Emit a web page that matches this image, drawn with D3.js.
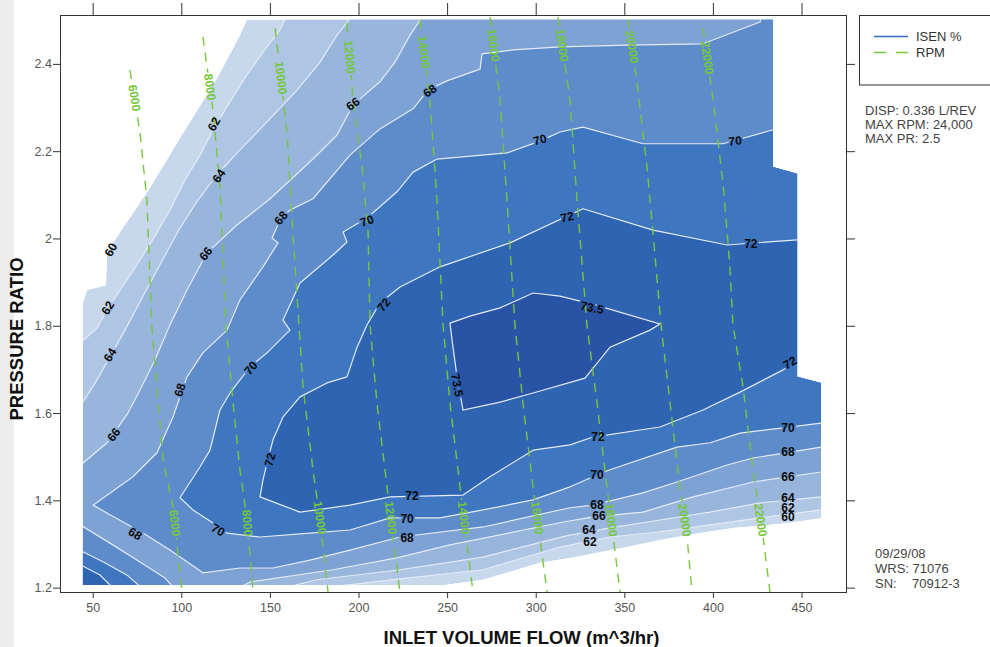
<!DOCTYPE html>
<html>
<head>
<meta charset="utf-8">
<script src="https://cdn.jsdelivr.net/npm/d3@7/dist/d3.min.js"></script>
<style>
html,body{margin:0;padding:0;background:#fff;}
svg{display:block;}
text{font-family:"Liberation Sans",Arial,Helvetica,sans-serif;}
</style>
</head>
<body>
<svg id="chart" width="990" height="647"></svg>
<script>
// ================= DATA (flow m^3/hr, pressure ratio) =================
const xTicks = [50,100,150,200,250,300,350,400,450];
const yTicks = [1.2,1.4,1.6,1.8,2,2.2,2.4];
const isenLevels = [60,62,64,66,68,70,72,73.5];

// outline of the mapped area (edge = 60 % line)
const mapOutline = [[44.5,1.206],[248.8,1.206],[270.3,1.218],[289.4,1.241],[302.4,1.257],[319.4,1.268],[351.5,1.293],[370.1,1.309],[392.7,1.325],[413.6,1.338],[426.6,1.341],[445.2,1.350],[461.0,1.359],[461.0,1.669],[447.5,1.683],[447.5,2.148],[433.9,2.164],[433.9,2.501],[137.1,2.501],[133.1,2.466],[126.4,2.414],[119.0,2.359],[110.6,2.304],[99.3,2.230],[90.8,2.173],[82.3,2.116],[72.7,2.058],[65.4,2.015],[58.1,1.967],[57.5,1.893],[46.8,1.882],[44.5,1.852]];

// isentropic efficiency contour lines
const isen62TopLeft = [[40.0,1.749],[52.4,1.795],[59.8,1.848],[68.2,1.898],[76.7,1.951],[85.2,2.006],[93.6,2.065],[102.1,2.134],[110.6,2.191],[117.9,2.249],[126.4,2.306],[135.9,2.368],[146.1,2.427],[155.7,2.478],[161.3,2.524]];
const isen64TopLeft = [[40.0,1.596],[52.4,1.676],[59.8,1.729],[68.2,1.790],[76.7,1.855],[85.2,1.919],[92.5,1.974],[99.3,2.024],[109.4,2.088],[120.1,2.146],[133.1,2.203],[148.4,2.267],[165.3,2.340],[178.3,2.404],[187.9,2.466],[199.2,2.524]];
const isen66TopLeft = [[40.0,1.470],[58.1,1.532],[69.9,1.600],[76.7,1.653],[85.2,1.722],[93.6,1.802],[103.2,1.882],[114.5,1.967],[131.4,2.031],[150.1,2.091],[174.3,2.182],[187.9,2.237],[196.9,2.306],[212.1,2.359],[220.6,2.404],[229.1,2.466],[238.7,2.524]];
const isen62Bottom = [[468.9,1.380],[461.0,1.378],[426.6,1.360],[398.4,1.344],[370.1,1.328],[341.9,1.316],[313.7,1.293],[270.3,1.241],[223.4,1.220],[189.6,1.204],[184.0,1.183]];
const isen64Bottom = [[468.9,1.410],[461.0,1.408],[426.6,1.394],[398.4,1.373],[370.1,1.355],[341.9,1.337],[316.5,1.318],[270.3,1.270],[223.4,1.241],[176.6,1.218],[141.6,1.183]];
const isen66Bottom = [[468.9,1.467],[461.0,1.465],[422.6,1.442],[388.8,1.408],[360.5,1.373],[332.3,1.362],[316.5,1.351],[251.6,1.298],[221.7,1.268],[185.6,1.241],[138.8,1.213],[124.7,1.183]];
const isen68Main = [[429.4,2.535],[426.6,2.496],[394.4,2.446],[351.5,2.443],[313.7,2.439],[287.2,2.432],[269.7,2.423],[268.6,2.388],[249.9,2.361],[239.2,2.340],[230.8,2.297],[212.1,2.251],[195.2,2.191],[174.3,2.091],[161.3,2.065],[155.7,2.042],[151.2,2.001],[154.6,1.990],[146.1,1.935],[133.1,1.859],[125.8,1.790],[112.2,1.738],[103.2,1.683],[95.3,1.591],[86.3,1.509],[72.7,1.454],[50.2,1.389],[59.8,1.367],[78.4,1.325],[93.6,1.286],[112.2,1.234],[133.1,1.245],[151.7,1.245],[172.6,1.263],[195.2,1.286],[223.4,1.316],[270.3,1.339],[319.4,1.383],[332.3,1.389],[360.5,1.417],[379.7,1.442],[408.0,1.481],[422.6,1.497],[461.0,1.522],[468.9,1.526]];
const isen68Corner = [[40.0,1.351],[59.8,1.302],[76.7,1.259],[90.8,1.222],[99.3,1.183]];
const isen70Main = [[440.7,2.249],[433.9,2.249],[405.7,2.217],[360.5,2.217],[326.7,2.255],[313.7,2.244],[302.4,2.223],[283.8,2.196],[244.3,2.182],[230.8,2.152],[221.7,2.107],[204.8,2.047],[191.3,2.015],[193.5,1.992],[185.6,1.962],[167.0,1.898],[157.4,1.813],[161.3,1.790],[148.4,1.738],[138.8,1.706],[127.5,1.646],[121.8,1.607],[116.2,1.515],[110.6,1.477],[99.3,1.406],[106.6,1.378],[117.9,1.348],[125.8,1.325],[144.4,1.316],[172.6,1.325],[195.2,1.332],[217.8,1.360],[246.0,1.360],[270.3,1.378],[298.5,1.401],[319.4,1.431],[332.3,1.454],[341.9,1.470],[379.7,1.522],[398.4,1.532],[415.3,1.554],[439.6,1.566],[461.0,1.577],[468.9,1.579]];
const isen70Corner = [[40.0,1.291],[56.9,1.257],[69.9,1.227],[82.3,1.183]];
const isen72Main = [[454.8,1.997],[447.5,1.997],[408.0,1.985],[366.2,2.019],[326.7,2.068],[285.5,1.990],[246.0,1.935],[223.4,1.889],[212.1,1.852],[204.8,1.802],[199.2,1.751],[193.5,1.683],[182.2,1.669],[167.0,1.637],[157.4,1.591],[151.7,1.538],[148.4,1.486],[146.1,1.447],[144.4,1.408],[167.0,1.373],[195.2,1.389],[217.8,1.408],[259.0,1.412],[274.2,1.454],[298.5,1.515],[319.4,1.527],[332.3,1.545],[370.1,1.568],[394.4,1.607],[415.3,1.648],[439.6,1.699],[447.5,1.717],[454.8,1.726]];
const isen72Corner = [[40.0,1.259],[54.1,1.229],[65.4,1.183]];
const isen735Core = [[251.6,1.806],[262.9,1.822],[279.9,1.841],[298.5,1.875],[313.7,1.868],[333.5,1.848],[370.1,1.804],[364.5,1.790],[341.9,1.751],[327.8,1.680],[298.5,1.646],[279.9,1.625],[259.0,1.607],[255.6,1.683],[252.8,1.767]];

// contour labels: text, flow, PR, angle
const isenLabels = [
 ["60",60.3,1.974,-62],["62",58.6,1.841,-58],["64",59.8,1.733,-58],["66",62.0,1.550,-52],
 ["62",118.5,2.262,-60],["64",121.3,2.143,-55],["66",113.9,1.965,-52],["68",156.3,2.047,-50],
 ["66",196.9,2.308,-35],["68",240.3,2.338,-35],["68",99.3,1.653,-72],["70",139.3,1.703,-50],
 ["70",204.8,2.040,-20],["70",302.4,2.226,-15],["70",412.5,2.223,-5],["72",214.4,1.848,-50],
 ["72",317.7,2.049,-12],["72",421.4,1.987,0],["73.5",331.8,1.841,12],["73.5",255.6,1.664,80],
 ["72",150.1,1.493,-75],["72",443.5,1.715,-30],["68",73.9,1.323,32],["70",120.7,1.332,30],
 ["72",230.2,1.410,0],["70",227.4,1.357,0],["68",227.4,1.314,0],
 ["72",335.1,1.545,0],["70",334.6,1.458,0],["68",334.6,1.389,0],["66",335.7,1.364,0],["64",330.0,1.332,0],["62",330.6,1.305,0],
 ["70",442.3,1.566,0],["68",442.3,1.511,0],["66",442.3,1.454,0],["64",442.3,1.406,0],["62",442.3,1.383,0],["60",442.3,1.362,0]
];

// RPM speed lines
const rpmSpeeds = [6000,8000,10000,12000,14000,16000,18000,20000,22000];
const rpm6000  = [[71.0,2.386],[76.7,2.242],[80.6,2.088],[83.5,1.790],[86.3,1.660],[89.7,1.493],[95.3,1.385],[100.4,1.190]];
const rpm8000  = [[112.2,2.462],[117.9,2.294],[121.8,2.118],[125.2,1.802],[129.2,1.623],[133.1,1.470],[137.1,1.355],[140.5,1.190]];
const rpm10000 = [[152.9,2.482],[159.7,2.242],[163.0,2.013],[166.4,1.802],[168.7,1.660],[174.3,1.470],[178.3,1.355],[182.8,1.190]];
const rpm12000 = [[193.5,2.494],[196.9,2.317],[202.0,2.164],[205.4,2.013],[206.5,1.802],[210.4,1.623],[216.1,1.431],[219.5,1.316],[223.4,1.190]];
const rpm14000 = [[234.7,2.501],[240.3,2.317],[244.3,2.088],[247.7,1.802],[251.6,1.623],[257.3,1.431],[264.6,1.190]];
const rpm16000 = [[274.2,2.507],[279.9,2.317],[283.8,2.088],[288.3,1.802],[292.8,1.623],[298.5,1.431],[306.4,1.190]];
const rpm18000 = [[312.6,2.507],[319.4,2.317],[323.3,2.088],[328.9,1.802],[334.6,1.623],[340.2,1.431],[347.6,1.190]];
const rpm20000 = [[352.1,2.501],[357.2,2.356],[362.8,2.164],[366.2,2.013],[370.7,1.802],[375.8,1.623],[381.4,1.431],[385.4,1.316],[388.2,1.190]];
const rpm22000 = [[394.4,2.482],[400.1,2.317],[405.7,2.127],[409.6,1.935],[411.3,1.802],[417.0,1.660],[422.6,1.470],[428.3,1.316],[432.2,1.190]];
const rpmTopLabelPR    = [2.322,2.347,2.368,2.416,2.427,2.443,2.443,2.439,2.414];
const rpmBottomLabelPR = [1.348,1.348,1.360,1.360,1.360,1.360,1.355,1.355,1.355];

const legendItems = ["ISEN %","RPM"];
const infoLines = ["DISP: 0.336 L/REV","MAX RPM: 24,000","MAX PR: 2.5"];
const stampLines = [["09/29/08",""],["WRS: 71076",""],["SN:","70912-3"]];
const xTitle = "INLET VOLUME FLOW (m^3/hr)";
const yTitle = "PRESSURE RATIO";

// ================= STYLE =================
const bandColors = ["#c7d7ec","#afc5e4","#98b5dc","#7ea2d3","#5e8bc9","#3e77c0","#2f64b3","#2954a6"];
const contourStroke = "#e3ebf7";
const rpmColor = "#78c63e";
const W = 990, H = 647;
const M = {l:60, t:15, r:846, b:592};

// ================= DRAW =================
const svg = d3.select("#chart");
const x = d3.scaleLinear().domain([31.55,475.1]).range([M.l,M.r]);
const y = d3.scaleLinear().domain([1.190,2.512]).range([M.b,M.t]);
const line = d3.line().x(d=>x(d[0])).y(d=>y(d[1]));

svg.append("rect").attr("x",0).attr("y",0).attr("width",14).attr("height",H).attr("fill","#ededed");

const defs = svg.append("defs");
defs.append("clipPath").attr("id","clipMap").append("path").attr("d", line(mapOutline)+"Z");
defs.append("clipPath").attr("id","clipPlot").append("rect")
  .attr("x",M.l).attr("y",M.t).attr("width",M.r-M.l).attr("height",M.b-M.t);

// closing points outside the mapped area
const corner = {
  TR:[x.domain()[1]+30, y.domain()[1]+0.5],
  BL:[x.domain()[0]-30, y.domain()[0]-0.2]
};
const regions = [
  [[isen62TopLeft,"TR",isen62Bottom,"BL"]],
  [[isen64TopLeft,"TR",isen64Bottom,"BL"]],
  [[isen66TopLeft,"TR",isen66Bottom,"BL"]],
  [[isen68Main,"TR"],[isen68Corner,"BL"]],
  [[isen70Main,"TR"],[isen70Corner,"BL"]],
  [[isen72Main],[isen72Corner,"BL"]],
  [[isen735Core]]
];
const partPoints = part => part.flatMap(p => typeof p === "string" ? [corner[p]] : p);

const bands = svg.append("g").attr("clip-path","url(#clipMap)");
bands.append("path").attr("d", line(mapOutline)+"Z").attr("fill", bandColors[0]);
regions.forEach((parts,i)=>{
  bands.append("path")
    .attr("d", parts.map(pt => line(partPoints(pt))+"Z").join(" "))
    .attr("fill", bandColors[i+1]);
});

// masks so lines break under their labels
function makeMask(id){
  const m = defs.append("mask").attr("id",id).attr("maskUnits","userSpaceOnUse")
    .attr("x",0).attr("y",0).attr("width",W).attr("height",H);
  m.append("rect").attr("x",0).attr("y",0).attr("width",W).attr("height",H).attr("fill","#fff");
  return m;
}
const maskIsen = makeMask("maskIsen");
const maskRpm = makeMask("maskRpm");

// contour lines
const contourLines = [isen62TopLeft,isen64TopLeft,isen66TopLeft,isen62Bottom,isen64Bottom,isen66Bottom,
  isen68Main,isen68Corner,isen70Main,isen70Corner,isen72Main,isen72Corner];
const cg = svg.append("g").attr("clip-path","url(#clipMap)").append("g").attr("mask","url(#maskIsen)");
contourLines.forEach(c => cg.append("path").attr("d", line(c)).attr("fill","none")
  .attr("stroke",contourStroke).attr("stroke-width",1.2).attr("stroke-linejoin","round"));
cg.append("path").attr("d", line(isen735Core)+"Z").attr("fill","none")
  .attr("stroke",contourStroke).attr("stroke-width",1.2);

// RPM lines
const rpmLines = [rpm6000,rpm8000,rpm10000,rpm12000,rpm14000,rpm16000,rpm18000,rpm20000,rpm22000];
const rg = svg.append("g").attr("clip-path","url(#clipPlot)").append("g").attr("mask","url(#maskRpm)");
rpmLines.forEach(l => rg.append("path").attr("d", line(l)).attr("fill","none")
  .attr("stroke",rpmColor).attr("stroke-width",1.4).attr("stroke-dasharray","9,7"));

function atPR(pts, pr){
  for(let i=0;i<pts.length-1;i++){
    const a=pts[i], b=pts[i+1];
    if((a[1]-pr)*(b[1]-pr) <= 0){
      const t = (pr-a[1])/(b[1]-a[1]);
      const f = a[0]+t*(b[0]-a[0]);
      const ang = Math.atan2(y(b[1])-y(a[1]), x(b[0])-x(a[0]))*180/Math.PI;
      return {px:x(f), py:y(pr), ang};
    }
  }
  return null;
}
const rpmLabelG = svg.append("g");
rpmLines.forEach((l,i)=>{
  [rpmTopLabelPR[i], rpmBottomLabelPR[i]].forEach(pr=>{
    const p = atPR(l, pr);
    if(!p) return;
    const tf = `translate(${p.px},${p.py}) rotate(${p.ang})`;
    rpmLabelG.append("text").attr("transform",tf).attr("text-anchor","middle")
      .attr("dominant-baseline","central").attr("font-size",12).attr("font-weight","bold")
      .attr("fill","#74c83a").text(rpmSpeeds[i]);
    maskRpm.append("text").attr("transform",tf).attr("text-anchor","middle")
      .attr("dominant-baseline","central").attr("font-size",12).attr("font-weight","bold")
      .attr("fill","#000").attr("stroke","#000").attr("stroke-width",4).text(rpmSpeeds[i]);
  });
});

// contour labels
const isenLabelG = svg.append("g");
isenLabels.forEach(([t,f,p,a])=>{
  const tf = `translate(${x(f)},${y(p)}) rotate(${a})`;
  isenLabelG.append("text").attr("transform",tf).attr("text-anchor","middle")
    .attr("dominant-baseline","central").attr("font-size",12).attr("font-weight","bold")
    .attr("fill","#0a0a0a").text(t);
  maskIsen.append("text").attr("transform",tf).attr("text-anchor","middle")
    .attr("dominant-baseline","central").attr("font-size",12).attr("font-weight","bold")
    .attr("fill","#000").attr("stroke","#000").attr("stroke-width",4).text(t);
});

// axes
function styleAxis(g){
  g.select(".domain").remove();
  g.selectAll(".tick line").attr("stroke","#333");
  g.selectAll(".tick text").attr("fill","#555").attr("font-size",12.5)
    .attr("font-family",'"Liberation Sans",Arial,sans-serif');
}
svg.append("g").attr("transform",`translate(${M.l},0)`)
  .call(d3.axisLeft(y).tickValues(yTicks).tickSize(7).tickPadding(1).tickFormat(d=>String(d)))
  .call(styleAxis);
svg.append("g").attr("transform",`translate(0,${M.b})`)
  .call(d3.axisBottom(x).tickValues(xTicks).tickSize(6).tickPadding(5).tickFormat(d=>String(d)))
  .call(styleAxis);
svg.append("g").attr("transform",`translate(0,${M.t})`)
  .call(d3.axisTop(x).tickValues(xTicks).tickSize(12).tickFormat(()=>""))
  .call(styleAxis);
svg.append("g").attr("transform",`translate(${M.r},0)`)
  .call(d3.axisRight(y).tickValues(yTicks).tickSize(9).tickFormat(()=>""))
  .call(styleAxis);

svg.append("rect").attr("x",M.l+0.5).attr("y",M.t+0.5).attr("width",M.r-M.l)
  .attr("height",M.b-M.t).attr("fill","none").attr("stroke","#333").attr("stroke-width",1);

// titles
svg.append("text").attr("transform","translate(23,339) rotate(-90)").attr("text-anchor","middle")
  .attr("font-weight","bold").attr("font-size",18.5).attr("fill","#111").text(yTitle);
svg.append("text").attr("x",521.5).attr("y",644).attr("text-anchor","middle")
  .attr("font-weight","bold").attr("font-size",18.5).attr("fill","#111").text(xTitle);

// legend
svg.append("rect").attr("x",859.5).attr("y",15.5).attr("width",140).attr("height",69.5)
  .attr("fill","#fff").attr("stroke","#333");
svg.append("line").attr("x1",874).attr("x2",908).attr("y1",36.5).attr("y2",36.5)
  .attr("stroke","#2f6bbf").attr("stroke-width",1.3);
svg.append("line").attr("x1",874).attr("x2",908).attr("y1",52.5).attr("y2",52.5)
  .attr("stroke",rpmColor).attr("stroke-width",1.4).attr("stroke-dasharray","12,10");
legendItems.forEach((t,i)=>svg.append("text").attr("x",916).attr("y",41+i*15.5)
  .attr("font-size",13).attr("fill","#333").text(t));

// info text
infoLines.forEach((t,i)=>svg.append("text").attr("x",865).attr("y",115+i*14)
  .attr("font-size",13).attr("fill","#444").text(t));
stampLines.forEach(([a,b],i)=>{
  svg.append("text").attr("x",875).attr("y",558+i*15).attr("font-size",13).attr("fill","#444").text(a);
  if(b) svg.append("text").attr("x",912).attr("y",558+i*15).attr("font-size",13).attr("fill","#444").text(b);
});
</script>
</body>
</html>
